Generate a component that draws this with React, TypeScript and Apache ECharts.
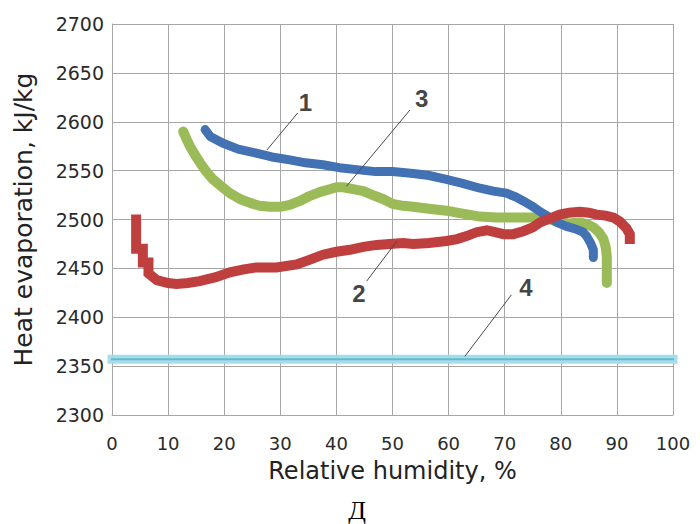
import React, { useEffect, useRef } from "react";
import * as echarts from "echarts";

// Axis ranges
const xRange = [0, 100];
const xStep = 10;
const yRange = [2300, 2700];
const yStep = 50;

// Curve 1 (blue)
const curve1X = [16.6, 17.5, 19.8, 22.5, 25.7, 28.5, 31.7, 34.5, 37.6, 40.5, 43.6, 47, 50, 53.7, 56.5, 59.6, 62.5, 65.6, 68, 70.3, 72, 73.3, 74.8, 76.3, 77.8, 79.3, 81, 82.8, 84, 84.6, 85.3, 85.8, 85.8];
const curve1Y = [2592, 2585, 2578, 2572, 2568, 2564, 2561, 2558, 2556, 2553, 2551, 2549, 2549, 2547, 2545, 2541, 2537, 2532, 2529, 2527, 2523, 2519, 2514, 2508, 2503, 2497, 2493, 2490, 2487, 2483, 2476, 2469, 2461];

// Curve 2 (red)
const curve2X = [4.3, 4.3, 5.5, 5.5, 6.5, 6.5, 8, 10, 11.5, 13.5, 15.6, 18.5, 21, 23.5, 25.7, 29.3, 32.9, 35.3, 37.6, 40, 42.4, 44.8, 47.2, 49.5, 51.9, 53.7, 56.5, 59.6, 61.5, 63.2, 65, 66.8, 68.3, 69.8, 71.5, 73.3, 75, 76.3, 78, 79.8, 81.5, 83.4, 85, 86.4, 88, 89.4, 90.5, 91.7, 92.3, 92.3];
const curve2Y = [2500, 2470, 2470, 2456, 2456, 2445, 2438, 2435, 2434, 2435, 2437, 2441, 2446, 2449, 2451, 2451, 2454, 2459, 2464, 2467, 2469, 2472, 2474, 2475, 2476, 2475, 2476, 2478, 2480, 2483, 2487, 2489, 2487, 2485, 2485, 2488, 2492, 2497, 2501, 2505, 2507, 2508, 2507, 2505, 2504, 2502, 2498, 2491, 2485, 2480];

// Curve 3 (green)
const curve3X = [12.7, 13.3, 13.9, 14.8, 15.7, 16.8, 18, 19.5, 21, 22.8, 24.6, 26.3, 28.1, 30, 31.7, 33.5, 35.2, 37, 38.8, 40, 41.2, 43, 44.8, 46.5, 48.3, 50, 51.9, 53.7, 56.5, 59.6, 62.5, 65.6, 68.5, 71.5, 75, 77.5, 79.8, 81.5, 83.4, 84.8, 85.8, 86.8, 87.6, 88, 88.2, 88.2];
const curve3Y = [2590, 2582, 2575, 2566, 2558, 2549, 2541, 2534, 2527, 2521, 2517, 2514, 2513, 2513, 2515, 2519, 2524, 2528, 2531, 2533, 2533, 2531, 2529, 2525, 2521, 2516, 2514, 2513, 2511, 2509, 2506, 2503, 2502, 2502, 2502, 2501, 2497, 2496, 2497, 2495, 2492, 2487, 2480, 2472, 2462, 2435];

// Curve 4 (cyan, constant)
const curve4X = [0, 100];
const curve4Y = [2357, 2357];

// Annotations
const noteLabels = ["1", "2", "3", "4"];
const noteX = [34.5, 44.0, 55.2, 73.8];
const noteY = [2620, 2424, 2624, 2430];
const leaderFromX = [33.1, 45.4, 53.1, 71.2];
const leaderFromY = [2609, 2437, 2612, 2423];
const leaderToX = [27.6, 50.8, 41.8, 62.9];
const leaderToY = [2571, 2478, 2534, 2360];

const zip = (xs: number[], ys: number[]) => xs.map((x, i) => [x, ys[i]]);

const SANS = '"DejaVu Sans", sans-serif';

export default function App() {
  const ref = useRef<HTMLDivElement>(null);
  useEffect(() => {
    if (!ref.current) return;
    const chart = echarts.init(ref.current, undefined, { renderer: "svg" });
    const lineSeries = (data: number[][], color: string, width: number, z: number, cap = "round", join = "round") => ({
      type: "line",
      data,
      showSymbol: false,
      symbol: "none",
      smooth: false,
      z,
      lineStyle: { color, width, cap, join },
    });
    const leaders = noteLabels.map((_, i) => ({
      type: "line",
      data: [
        [leaderFromX[i], leaderFromY[i]],
        [leaderToX[i], leaderToY[i]],
      ],
      showSymbol: false,
      symbol: "none",
      z: 10,
      lineStyle: { color: "#4a4a4a", width: 1 },
    }));
    chart.setOption({
      animation: false,
      backgroundColor: "#ffffff",
      grid: { left: 112, right: 27, top: 24, bottom: 109, containLabel: false },
      xAxis: {
        type: "value",
        min: xRange[0],
        max: xRange[1],
        interval: xStep,
        name: "Relative humidity, %",
        nameLocation: "middle",
        nameGap: 44,
        nameTextStyle: { fontFamily: SANS, fontSize: 24, color: "#222" },
        axisLine: { show: true, lineStyle: { color: "#a6a6a6", width: 1 } },
        axisTick: { show: false },
        axisLabel: {
          fontFamily: SANS,
          fontSize: 18,
          color: "#2a2a2a",
          margin: 19,
          formatter: (v: number) => String(v),
        },
        splitLine: { show: true, lineStyle: { color: "#a6a6a6", width: 1 } },
      },
      yAxis: {
        type: "value",
        min: yRange[0],
        max: yRange[1],
        interval: yStep,
        name: "Heat evaporation, kJ/kg",
        nameLocation: "middle",
        nameGap: 76,
        nameTextStyle: { fontFamily: SANS, fontSize: 25, color: "#222" },
        axisLine: { show: true, lineStyle: { color: "#a6a6a6", width: 1 } },
        axisTick: { show: false },
        axisLabel: {
          fontFamily: SANS,
          fontSize: 19,
          color: "#2a2a2a",
          margin: 8,
          formatter: (v: number) => String(v),
        },
        splitLine: { show: true, lineStyle: { color: "#a6a6a6", width: 1 } },
      },
      series: [
        {
          ...lineSeries(zip(curve4X, curve4Y), "#a8dcea", 9, 2),
          lineStyle: { color: "#a8dcea", width: 9, cap: "square" },
          clip: false,
        },
        {
          ...lineSeries(zip(curve4X, curve4Y), "#5bbcd4", 2, 3),
          lineStyle: { color: "#5bbcd4", width: 2, type: [3, 2], cap: "square" },
          clip: false,
        },
        lineSeries(zip(curve3X, curve3Y), "#9bbb59", 10, 4),
        lineSeries(zip(curve1X, curve1Y), "#4372b4", 9, 5),
        lineSeries(zip(curve2X, curve2Y), "#bf3f3e", 10, 6, "square", "miter"),
        ...leaders,
        {
          type: "scatter",
          data: noteLabels.map((t, i) => [noteX[i], noteY[i], t]),
          symbolSize: 0,
          z: 11,
          label: {
            show: true,
            position: "inside",
            formatter: (p: any) => p.value[2],
            fontFamily: '"Liberation Sans", Arial, sans-serif',
            fontWeight: "bold",
            fontSize: 24,
            color: "#111",
          },
        },
      ],
      graphic: [
        {
          type: "text",
          x: 357,
          y: 510,
          style: {
            text: "Д",
            font: '26px "Liberation Serif", serif',
            fill: "#000",
            align: "center",
            verticalAlign: "middle",
          },
        },
      ],
    });
    return () => chart.dispose();
  }, []);
  return (
    <div
      ref={ref}
      style={{ position: "absolute", left: 0, top: 0, width: 700, height: 524 }}
    />
  );
}
